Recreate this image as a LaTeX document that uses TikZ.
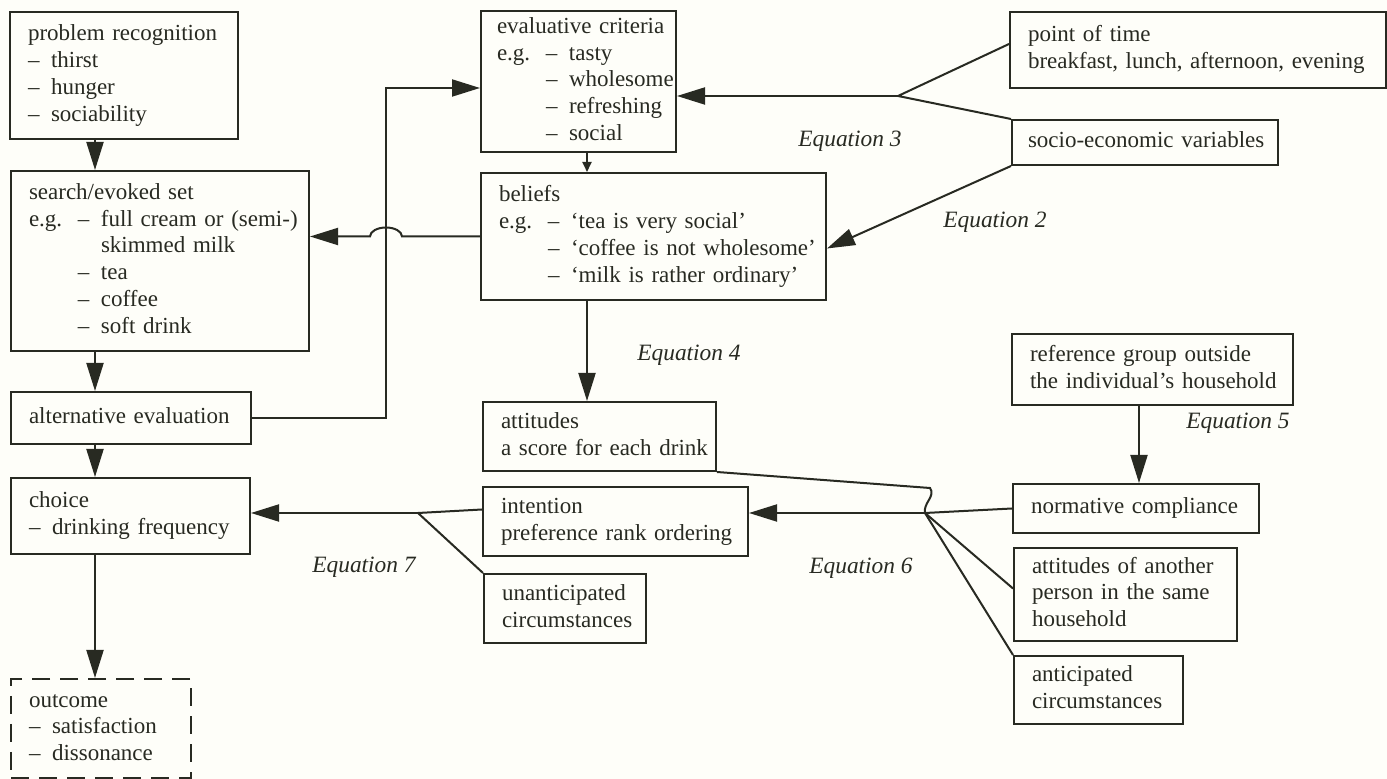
\documentclass[tikz,border=0pt]{standalone}
\usepackage{fontspec}
\setmainfont{Liberation Serif}
\usetikzlibrary{arrows.meta,positioning}
\definecolor{ink}{RGB}{40,42,34}
\definecolor{paper}{RGB}{254,254,249}
\newcommand{\boxlines}[1]{\begin{tabular}{@{}l@{}}#1\end{tabular}}
\newcommand{\egtag}{\makebox[24.5pt][l]{e.g.}}
\newcommand{\idash}{\makebox[11.5pt][l]{--}}
\newcommand{\egskip}{\hspace*{24.5pt}}

\begin{document}
\begin{tikzpicture}[
    x=0.5pt, y=-0.5pt,
    every node/.style={font=\fontsize{11.5}{13.4}\selectfont, text=ink},
    stage/.style={draw=ink, line width=1pt, anchor=north west, align=left, inner xsep=9pt, inner ysep=0pt},
    outcomebox/.style={stage, dash pattern=on 9pt off 5pt},
    eqn/.style={font=\fontsize{11.7}{13.4}\selectfont\itshape},
    link/.style={draw=ink, line width=1pt},
    arr/.style={link, -{Triangle[length=14pt, width=8.5pt]}},
    smallarr/.style={link, -{Triangle[length=5pt, width=4.5pt]}}
]
\useasboundingbox (0,0) rectangle (1387,779);
\fill[paper] (0,0) rectangle (1387,779);

% decision process (left column)
\node[stage, text width=96pt, minimum height=63.5pt] (prob) at (9,11) {\boxlines{problem recognition\\ \idash thirst\\ \idash hunger\\ \idash sociability}};
\node[stage, text width=131pt, minimum height=90pt] (search) at (10,170) {\boxlines{search/evoked set\\ \egtag\idash full cream or (semi-)\\ \egskip\hspace*{11.5pt}skimmed milk\\ \egskip\idash tea\\ \egskip\idash coffee\\ \egskip\idash soft drink}};
\node[stage, text width=102pt, minimum height=26pt] (alt) at (10,391) {\boxlines{alternative evaluation}};
\node[stage, text width=101.5pt, minimum height=38pt] (choice) at (10,477) {\boxlines{choice\\ \idash drinking frequency}};
\node[outcomebox, text width=72pt, minimum height=49.5pt] (outcome) at (10,678) {\boxlines{outcome\\ \idash satisfaction\\ \idash dissonance}};

% attitude model (middle column)
\node[stage, inner xsep=8pt, text width=81.5pt, minimum height=70.5pt] (eval) at (480,10) {\boxlines{evaluative criteria\\ \egtag\idash tasty\\ \egskip\idash wholesome\\ \egskip\idash refreshing\\ \egskip\idash social}};
\node[stage, text width=154.5pt, minimum height=63.5pt] (beliefs) at (480,172) {\boxlines{beliefs\\ \egtag\idash ‘tea is very social’\\ \egskip\idash ‘coffee is not wholesome’\\ \egskip\idash ‘milk is rather ordinary’}};
\node[stage, text width=98.5pt, minimum height=34.5pt] (attitudes) at (482,401) {\boxlines{attitudes\\ a score for each drink}};
\node[stage, text width=114.5pt, minimum height=34.5pt] (intention) at (482,486) {\boxlines{intention\\ preference rank ordering}};
\node[stage, text width=63pt, minimum height=34.5pt] (unant) at (483,573) {\boxlines{unanticipated\\ circumstances}};

% external factors (right column)
\node[stage, text width=170pt, minimum height=38pt] (pot) at (1009,11) {\boxlines{point of time\\ breakfast, lunch, afternoon, evening}};
\node[stage, inner xsep=8pt, text width=117pt, minimum height=22.5pt] (socio) at (1011,119) {\boxlines{socio-economic variables}};
\node[stage, text width=122.5pt, minimum height=35.5pt] (refgrp) at (1011,333) {\boxlines{reference group outside\\ the individual’s household}};
\node[stage, text width=105pt, minimum height=24.5pt] (normative) at (1012,483) {\boxlines{normative compliance}};
\node[stage, text width=93.5pt, minimum height=46.5pt] (attother) at (1013,547) {\boxlines{attitudes of another\\ person in the same\\ household}};
\node[stage, text width=66.5pt, minimum height=34pt] (anticip) at (1013,655) {\boxlines{anticipated\\ circumstances}};

% equation labels
\node[eqn] (eq2) at (995,222) {Equation 2};
\node[eqn] (eq3) at (850,141) {Equation 3};
\node[eqn] (eq4) at (689,355) {Equation 4};
\node[eqn] (eq5) at (1238,423) {Equation 5};
\node[eqn] (eq6) at (861,568) {Equation 6};
\node[eqn] (eq7) at (364,567) {Equation 7};

% junctions and bends
\coordinate (spine) at (95,0);
\coordinate (riser) at (386,88);
\coordinate (mid) at (587,0);
\coordinate (drop) at (1139,0);
\coordinate (j3) at (898,96);
\coordinate (kink) at (930,488);
\coordinate (j6) at (925,513);
\coordinate (j7) at (418,513);
\path (riser |- beliefs.west) coordinate (hop);

\draw[arr] (spine |- prob.south) -- (spine |- search.north);
\draw[arr] (spine |- search.south) -- (spine |- alt.north);
\draw[arr] (spine |- alt.south) -- (spine |- choice.north);
\draw[arr] (spine |- choice.south) -- (spine |- outcome.north);
\draw[arr] (alt.east) -| (riser) -- (riser -| eval.west);
\draw[arr] (beliefs.west) -- ([xshift=8pt]hop) arc[start angle=0, end angle=180, x radius=8pt, y radius=4.5pt] -- (beliefs.west -| search.east);

\draw[smallarr] (mid |- eval.south) -- (mid |- beliefs.north);
\draw[arr] (mid |- beliefs.south) -- (mid |- attitudes.north);

\draw[link] ([yshift=3pt]pot.west) -- (j3) -- (socio.north west);
\draw[arr] (j3) -- (j3 -| eval.east);
\draw[arr] (socio.south west) -- ([yshift=-6pt]beliefs.east);
\draw[arr] (drop |- refgrp.south) -- (drop |- normative.north);

\draw[link] (attitudes.south east) -- (kink) .. controls ([xshift=3pt,yshift=-4pt]kink) and ([xshift=-1pt,yshift=5pt]j6) .. (j6);
\draw[link] (j6) -- (normative.west);
\draw[link] (j6) -- ([yshift=3pt]attother.west);
\draw[link] (j6) -- (anticip.north west);
\draw[arr] (j6) -- (j6 -| intention.east);

\draw[link] ([yshift=6pt]intention.west) -- (j7) -- (unant.north west);
\draw[arr] (j7) -- (j7 -| choice.east);
\end{tikzpicture}
\end{document}
